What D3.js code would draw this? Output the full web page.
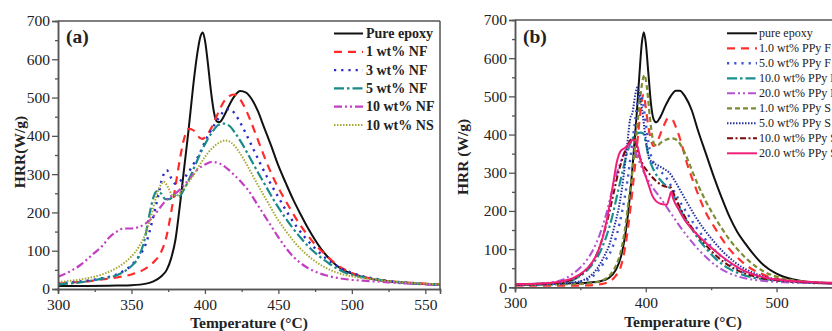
<!DOCTYPE html>
<html>
<head>
<meta charset="utf-8">
<script src="https://cdn.jsdelivr.net/npm/d3@7"></script>
<style>
  html, body { margin: 0; padding: 0; background: #fff; }
  svg { display: block; font-family: "Liberation Serif", "Times New Roman", serif; }
</style>
</head>
<body>
<svg id="chart" width="832" height="331"></svg>
<script>
// ---------- Panel (a) data: [temperature °C, HRR W/g] ----------
const aPureEpoxy = [[300,8],[320,8],[340,9],[350,10],[360,14],[365,20],[370,32],[374,50],[377,80],[380,130],[383,220],[386,320],[389,420],[392,530],[395,620],[397,660],[398.5,670],[400,650],[402,590],[404,520],[406,465],[408,438],[410,436],[413,452],[416,476],[420,503],[424,517],[428,513],[432,495],[436,465],[440,425],[445,375],[450,322],[455,277],[460,234],[465,196],[470,160],[475,128],[480,100],[485,78],[490,60],[495,48],[500,40],[510,29],[520,22],[530,18],[540,15],[550,13],[560,11]];
const aNF1 = [[300,14],[310,17],[320,20],[330,25],[340,30],[350,38],[358,50],[365,70],[370,95],[374,140],[377,200],[380,270],[383,340],[386,395],[389,418],[392,415],[395,400],[398,392],[401,400],[405,425],[409,460],[413,490],[417,505],[420,508],[423,500],[427,475],[431,440],[436,390],[441,340],[446,295],[452,250],[458,210],[464,172],[470,140],[476,112],[482,90],[488,69],[494,53],[500,42],[510,30],[520,23],[530,19],[540,16],[550,14],[560,12]];
const aNF3 = [[300,14],[310,18],[320,22],[330,28],[340,38],[345,48],[350,62],[355,85],[360,120],[364,175],[368,240],[371,290],[374,310],[377,290],[380,275],[384,285],[388,300],[392,325],[396,350],[400,385],[405,420],[410,450],[414,468],[417,470],[420,460],[424,435],[428,405],[433,365],[438,325],[444,280],[450,240],[456,200],[462,165],[468,135],[474,110],[480,88],[486,70],[492,55],[500,42],[510,31],[520,24],[530,19],[540,16],[550,13],[560,11]];
const aNF5 = [[300,12],[310,15],[320,20],[330,27],[340,36],[346,48],[350,60],[355,85],[359,130],[362,190],[365,240],[367,255],[370,250],[373,235],[376,235],[379,245],[382,240],[385,255],[389,285],[393,320],[397,355],[401,385],[405,410],[409,428],[413,432],[417,425],[421,405],[426,375],[431,340],[436,305],[442,265],[448,225],[454,190],[460,158],[466,130],[472,105],[478,85],[484,68],[490,53],[496,42],[502,35],[510,29],[520,23],[530,18],[540,15],[550,13],[560,11]];
const aNF10 = [[300,32],[305,40],[310,50],[315,62],[320,78],[325,95],[330,112],[335,135],[340,150],[345,158],[350,158],[355,162],[360,172],[364,185],[368,205],[372,225],[376,240],[380,250],[385,268],[390,290],[395,312],[400,325],[405,332],[410,328],[415,315],[420,298],[425,278],[430,255],[435,225],[440,195],[445,165],[450,135],[455,108],[460,85],[465,68],[470,55],[476,44],[482,36],[490,29],[500,24],[510,21],[520,19],[530,16],[540,14],[550,12],[560,11]];
const aNS10 = [[300,18],[310,22],[320,28],[330,38],[340,55],[345,68],[350,85],[355,110],[359,140],[363,185],[366,230],[369,265],[372,280],[375,265],[378,245],[381,245],[385,260],[390,285],[395,315],[400,345],[405,368],[410,383],[414,388],[418,382],[422,365],[427,335],[432,300],[437,265],[443,225],[449,185],[455,152],[461,122],[467,98],[473,78],[480,60],[487,47],[495,37],[505,30],[515,25],[530,19],[545,15],[560,12]];

// ---------- Panel (b) data ----------
const bPureEpoxy = [[300,8],[320,9],[340,10],[355,12],[365,16],[372,25],[377,45],[381,80],[384,130],[387,210],[390,320],[393,450],[395,550],[397,640],[398.5,668],[400,640],[402,560],[404,480],[406,440],[408,432],[411,445],[415,475],[419,500],[423,515],[426,515],[430,500],[435,465],[440,410],[446,350],[452,290],[458,235],[464,185],[470,145],[476,115],[482,88],[488,65],[494,48],[500,36],[506,27],[512,21],[520,16],[530,12],[545,10],[560,9]];
const bF1 = [[300,5],[320,4],[340,4],[355,5],[365,8],[372,15],[377,30],[381,55],[384,100],[387,170],[390,260],[393,360],[395,430],[397,490],[398.5,505],[400,470],[402,420],[404,385],[406,370],[408,375],[411,400],[414,425],[417,442],[420,440],[423,420],[427,380],[431,330],[436,280],[441,235],[446,195],[452,160],[458,128],[464,100],[470,78],[476,60],[482,46],[488,36],[494,28],[500,22],[510,17],[520,14],[535,11],[560,9]];
const bF5 = [[300,6],[320,7],[340,10],[350,15],[358,25],[364,45],[369,70],[374,100],[378,140],[382,200],[386,280],[389,360],[392,440],[394,490],[396,505],[398,480],[400,430],[402,380],[404,345],[407,320],[411,305],[416,285],[421,255],[426,225],[432,192],[438,160],[445,128],[452,100],[460,74],[468,53],[476,38],[485,27],[495,20],[510,15],[530,12],[560,10]];
const bF10 = [[300,6],[320,8],[335,12],[345,20],[352,35],[358,55],[364,85],[369,125],[374,180],[378,240],[382,300],[386,355],[390,390],[393,402],[396,405],[398,403],[400,380],[402,345],[405,315],[408,295],[412,278],[416,265],[419,258],[422,235],[427,200],[433,165],[440,128],[447,98],[454,73],[462,52],[470,38],[480,27],[492,20],[505,16],[520,13],[540,11],[560,10]];
const bF20 = [[300,7],[320,10],[330,14],[338,22],[344,35],[350,52],[355,72],[360,100],[365,140],[370,195],[374,250],[378,300],[382,340],[386,365],[389,370],[392,355],[395,330],[398,305],[402,280],[406,258],[411,235],[416,210],[421,185],[427,155],[433,128],[440,100],[447,76],[454,56],[462,40],[470,29],[480,21],[492,16],[505,13],[525,11],[560,9]];
const bS1 = [[300,6],[320,7],[340,8],[355,10],[365,16],[372,30],[377,55],[381,95],[384,150],[387,230],[390,310],[393,410],[395,470],[397,530],[399,556],[401,520],[403,450],[405,395],[407,373],[409,372],[412,380],[416,387],[420,390],[424,385],[428,365],[432,335],[436,300],[441,260],[446,225],[452,188],[458,155],[464,125],[470,100],[477,75],[484,55],[491,40],[498,30],[506,22],[515,17],[530,13],[560,10]];
const bS5 = [[300,6],[320,8],[340,11],[350,16],[357,28],[363,50],[368,80],[372,110],[376,160],[380,220],[383,290],[386,380],[388,440],[390,460],[392,505],[393.5,523],[395,510],[397,470],[399,415],[401,365],[403,335],[406,325],[410,318],[414,310],[418,300],[422,280],[427,250],[432,220],[438,185],[445,150],[452,120],[460,90],[468,66],[476,48],[485,34],[495,24],[508,17],[525,13],[560,10]];
const bS10 = [[300,7],[320,9],[335,13],[345,22],[352,38],[358,60],[363,90],[367,130],[371,180],[375,240],[379,300],[383,345],[386,372],[389,388],[391,390],[393,370],[395,345],[398,320],[401,305],[404,292],[408,278],[412,268],[416,263],[419,262],[422,240],[426,210],[431,178],[437,148],[444,118],[451,92],[459,68],[467,50],[476,36],[486,26],[498,19],[512,15],[530,12],[560,10]];
const bS20 = [[300,8],[320,10],[335,15],[345,25],[352,40],[358,60],[363,90],[367,130],[371,190],[375,270],[378,330],[381,358],[384,365],[387,375],[390,386],[392,385],[394,365],[396,335],[399,300],[402,270],[405,240],[408,225],[412,218],[416,216],[418,235],[419.5,250],[421,232],[425,205],[430,175],[436,150],[443,126],[450,104],[457,84],[465,64],[473,47],[482,34],[492,25],[503,19],[518,15],[540,12],[560,11]];

// ---------- Labels ----------
const aLabels = ["Pure epoxy", "1 wt% NF", "3 wt% NF", "5 wt% NF", "10 wt% NF", "10 wt% NS"];
const bLabels = ["pure epoxy", "1.0 wt% PPy F", "5.0 wt% PPy F", "10.0 wt% PPy F", "20.0 wt% PPy F", "1.0 wt% PPy S", "5.0 wt% PPy S", "10.0 wt% PPy S", "20.0 wt% PPy S"];
const aSeries = [aPureEpoxy, aNF1, aNF3, aNF5, aNF10, aNS10];
const bSeries = [bPureEpoxy, bF1, bF5, bF10, bF20, bS1, bS5, bS10, bS20];
const yTicks = [0, 100, 200, 300, 400, 500, 600, 700];
const aXTicks = [300, 350, 400, 450, 500, 550];
const bXTicks = [300, 400, 500];

// ---------- Styles ----------
const aStyles = [
  {color: "#111111", dash: null, w: 2},
  {color: "#ff2b2b", dash: "8,6", w: 2.2},
  {color: "#2b2bcc", dash: "2.2,5", w: 2.4},
  {color: "#1a8a88", dash: "10,3,2.5,3", w: 2.2},
  {color: "#c23fc2", dash: "8,3,2,3,2,3", w: 2.2},
  {color: "#a8a832", dash: "1.5,1.5", w: 2}
];
const bStyles = [
  {color: "#111111", dash: null, w: 2},
  {color: "#ff3030", dash: "8,6", w: 2.2},
  {color: "#3d5ad0", dash: "2.2,5", w: 2.4},
  {color: "#1a9090", dash: "10,3,2.5,3", w: 2.2},
  {color: "#b252d2", dash: "8,3,2,3,2,3", w: 2},
  {color: "#7b8c32", dash: "5,3", w: 2.2},
  {color: "#2230a0", dash: "1.5,1.5", w: 2},
  {color: "#7a0a0a", dash: "6,2.5,2,2.5", w: 2},
  {color: "#f0207a", dash: null, w: 2}
];

const svg = d3.select("#chart");
const axisColor = "#555";

function panel(cfg) {
  const g = svg.append("g");
  const x = d3.scaleLinear().domain(cfg.xDomain).range([cfg.left, cfg.right]);
  const y = d3.scaleLinear().domain([0, 700]).range([cfg.bottom, cfg.top]);

  const clipId = "clip-" + cfg.id;
  svg.append("clipPath").attr("id", clipId)
    .append("rect").attr("x", cfg.left).attr("y", cfg.top - 2)
    .attr("width", cfg.right - cfg.left).attr("height", cfg.bottom - cfg.top + 2);

  const line = d3.line().x(d => x(d[0])).y(d => y(d[1])).curve(d3.curveMonotoneX);
  const cg = g.append("g").attr("clip-path", `url(#${clipId})`);
  cfg.series.forEach((s, i) => {
    const st = cfg.styles[i];
    cg.append("path").datum(s).attr("d", line)
      .attr("fill", "none").attr("stroke", st.color).attr("stroke-width", st.w)
      .attr("stroke-dasharray", st.dash).attr("stroke-linejoin", "round");
  });

  // frame top & right
  g.append("line").attr("x1", cfg.left).attr("x2", cfg.right).attr("y1", cfg.top).attr("y2", cfg.top)
    .attr("stroke", axisColor).attr("stroke-width", 1.5);
  g.append("line").attr("x1", cfg.right).attr("x2", cfg.right).attr("y1", cfg.top).attr("y2", cfg.bottom)
    .attr("stroke", axisColor).attr("stroke-width", 1.5);

  // y axis
  const yAxis = d3.axisLeft(y).tickValues(yTicks).tickSize(6).tickPadding(2);
  g.append("g").attr("transform", `translate(${cfg.left},0)`).call(yAxis);
  const yMinor = d3.axisLeft(y).tickValues(d3.range(50, 700, 100)).tickSize(3).tickFormat("");
  g.append("g").attr("transform", `translate(${cfg.left},0)`).call(yMinor);

  // x axis
  const xAxis = d3.axisBottom(x).tickValues(cfg.xTicks).tickSize(5).tickPadding(5);
  g.append("g").attr("transform", `translate(0,${cfg.bottom})`).call(xAxis);
  const xMinor = d3.axisBottom(x).tickValues(cfg.xMinor).tickSize(3).tickFormat("");
  g.append("g").attr("transform", `translate(0,${cfg.bottom})`).call(xMinor);

  g.selectAll(".domain").attr("stroke", axisColor).attr("stroke-width", 1.5);
  g.selectAll(".tick line").attr("stroke", axisColor).attr("stroke-width", 1.3);
  g.selectAll(".tick text").attr("font-family", "Liberation Serif").attr("font-size", 15.5).attr("fill", "#222");

  // axis titles
  g.append("text").attr("x", (cfg.left + cfg.plotRightForTitle) / 2).attr("y", cfg.xTitleY)
    .attr("text-anchor", "middle").attr("font-weight", "bold").attr("font-size", 15.5).attr("fill", "#222")
    .text("Temperature (°C)");
  g.append("text").attr("transform", `translate(${cfg.yTitleX},${cfg.yTitleY}) rotate(-90)`)
    .attr("text-anchor", "middle").attr("dominant-baseline", "central")
    .attr("font-weight", "bold").attr("font-size", 15.5).attr("fill", "#222")
    .text(cfg.yTitle);

  // panel tag
  g.append("text").attr("x", cfg.left + cfg.tagDx).attr("y", cfg.tagY)
    .attr("font-weight", "bold").attr("font-size", 19.5).attr("fill", "#222").text(cfg.tag);

  // legend
  const lg = g.append("g");
  cfg.labels.forEach((lab, i) => {
    const st = cfg.styles[i];
    const yy = cfg.legY0 + i * cfg.legDy;
    lg.append("line").attr("x1", cfg.legX1).attr("x2", cfg.legX2).attr("y1", yy).attr("y2", yy)
      .attr("stroke", st.color).attr("stroke-width", st.w).attr("stroke-dasharray", st.dash);
    lg.append("text").attr("x", cfg.legTextX).attr("y", yy).attr("dominant-baseline", "central")
      .attr("font-size", cfg.legFont).attr("font-weight", cfg.legWeight).attr("fill", "#222").text(lab);
  });
}

panel({
  id: "a", left: 58, right: 440, top: 21, bottom: 289, xDomain: [300, 560],
  xTicks: aXTicks, xMinor: [325, 375, 425, 475, 525], series: aSeries, styles: aStyles, labels: aLabels,
  plotRightForTitle: 440, xTitleY: 328, yTitleX: 19, yTitleY: 152, yTitle: "HRR(W/g)",
  tag: "(a)", tagDx: 8, tagY: 43,
  legY0: 33.5, legDy: 18.3, legX1: 334, legX2: 363, legTextX: 366, legFont: 14, legWeight: "bold"
});

panel({
  id: "b", left: 515, right: 855, top: 20, bottom: 287.3, xDomain: [300, 560],
  xTicks: bXTicks, xMinor: [350, 450, 550], series: bSeries, styles: bStyles, labels: bLabels,
  plotRightForTitle: 851, xTitleY: 327, yTitleX: 462, yTitleY: 157, yTitle: "HRR (W/g)",
  tag: "(b)", tagDx: 8, tagY: 43,
  legY0: 33.3, legDy: 15, legX1: 727, legX2: 757, legTextX: 759, legFont: 12, legWeight: "normal"
});
</script>
</body>
</html>
